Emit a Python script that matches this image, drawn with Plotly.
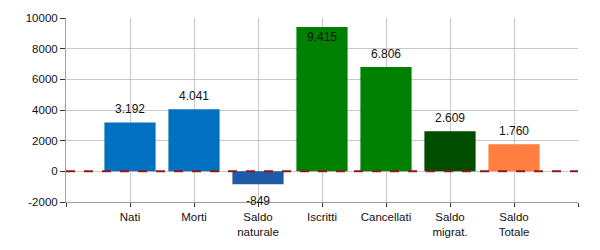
import plotly.graph_objects as go

categories = ["Nati", "Morti", "Saldo<br>naturale", "Iscritti", "Cancellati", "Saldo<br>migrat.", "Saldo<br>Totale"]
values = [3192, 4041, -849, 9415, 6806, 2609, 1760]
colors = ["#0070C0", "#0070C0", "#1F5AA6", "#008000", "#008000", "#004D00", "#FF7F40"]
y_ticks = [-2000, 0, 2000, 4000, 6000, 8000, 10000]
y_tick_labels = ["-2000", "0", "2000", "4000", "6000", "8000", "10000"]

positions = list(range(1, len(categories) + 1))

def fmt(v):
    return f"{v:,}".replace(",", ".")

fig = go.Figure()
fig.add_trace(go.Bar(x=positions, y=values, marker_color=colors, width=0.8,
                     marker_line_width=0, hoverinfo="skip"))

ymax = 10000
label_font = dict(size=12, color="#111111")
for p, v in zip(positions, values):
    if v < 0:
        fig.add_annotation(x=p, y=v, text=fmt(v), showarrow=False, yanchor="top", yshift=-8, font=label_font)
    elif v > ymax * 0.9:
        fig.add_annotation(x=p, y=v, text=fmt(v), showarrow=False, yanchor="top", yshift=-1, font=label_font)
    else:
        fig.add_annotation(x=p, y=v, text=fmt(v), showarrow=False, yanchor="bottom", yshift=4, font=label_font)

fig.add_shape(type="line", xref="paper", x0=0, x1=1, yref="y", y0=0, y1=0,
              line=dict(color="#8B1A1A", width=2, dash="dash"), layer="above")

fig.update_layout(
    width=600, height=250,
    margin=dict(l=66, r=22, t=15, b=46),
    paper_bgcolor="white", plot_bgcolor="white",
    font=dict(family="Liberation Sans, Arial, sans-serif", size=11, color="#111111"),
    showlegend=False,
)
fig.update_xaxes(range=[0, len(categories) + 1], tickmode="array",
                 tickvals=list(range(0, len(categories) + 2)),
                 ticktext=[""] + categories + [""],
                 showgrid=True, gridcolor="#C8C8C8", gridwidth=1,
                 showline=True, linecolor="#A0A0A0", linewidth=1,
                 ticks="outside", ticklen=4, tickcolor="#333333", zeroline=False,
                 tickfont=dict(size=11.5))
fig.update_yaxes(range=[-2000, 10000], tickmode="array", tickvals=y_ticks,
                 ticktext=y_tick_labels,
                 showgrid=True, gridcolor="#C8C8C8", gridwidth=1,
                 showline=True, linecolor="#A0A0A0", linewidth=1,
                 ticks="outside", ticklen=5, tickcolor="#333333", zeroline=False,
                 tickfont=dict(size=11.5))

fig.write_html("out.html")
